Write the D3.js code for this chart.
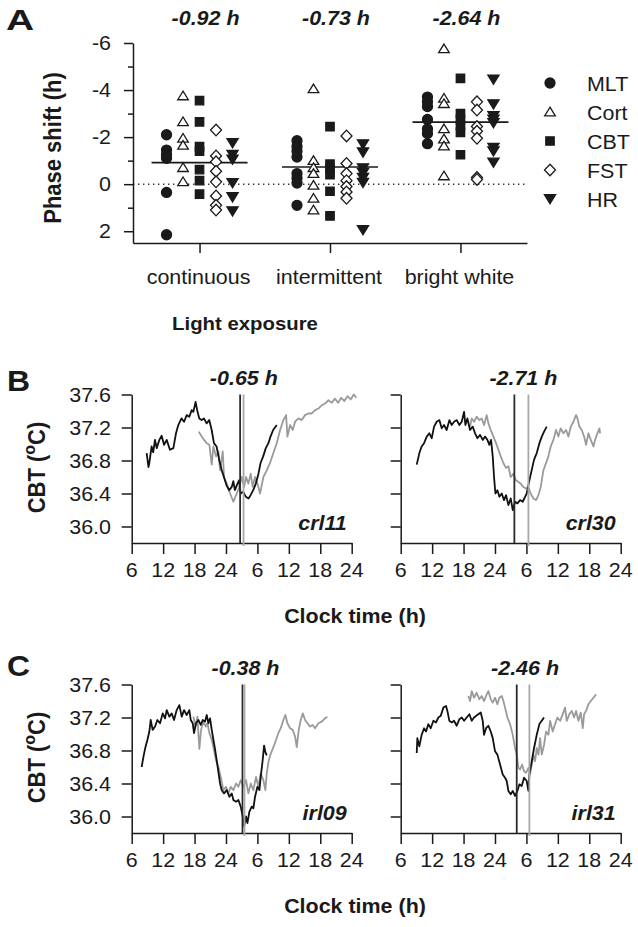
<!DOCTYPE html>
<html><head><meta charset="utf-8">
<script src="https://cdn.jsdelivr.net/npm/d3@7"></script>
<style>body{margin:0;background:#fff} svg{display:block} text{font-family:"Liberation Sans",Arial,Helvetica,sans-serif;fill:#1a1a1a}</style>
</head><body><svg id="c" width="638" height="927"></svg>
<script>
// ---------------- Panel A data ----------------
const groups = ["continuous", "intermittent", "bright white"];
const series = ["MLT", "Cort", "CBT", "FST", "HR"];
const meanShift = [-0.92, -0.73, -2.64];
const phaseTicks = [-6, -4, -2, 0, 2];
const phaseMinorTicks = [-5, -3, -1, 1];
// phase shift (h) per subject, one array per light-exposure group
const MLT = [
  [-2.1, -1.45, -1.25, -1.1, 0.35, 2.15],
  [-1.85, -1.6, -1.4, -1.15, -0.45, -0.25, -0.05, 0.9],
  [-3.7, -3.5, -3.3, -2.75, -2.35, -2.15, -1.72]
];
const Cort = [
  [-3.75, -2.65, -1.95, -1.65, -0.7, -0.1],
  [-4.05, -1.0, -0.7, -0.45, 0.05, 0.6, 1.1],
  [-5.75, -3.65, -3.42, -2.35, -1.92, -1.62, -0.35]
];
const CBT = [
  [-3.55, -2.65, -1.6, -1.4, -0.62, -0.15, 0.42],
  [-2.45, -0.85, -0.65, -0.4, 0.3, 1.35],
  [-4.5, -3.0, -2.75, -2.5, -2.2, -1.25]
];
const FST = [
  [-2.3, -1.2, -0.95, -0.55, -0.1, 0.5, 0.9, 1.1],
  [-2.05, -0.88, -0.45, -0.15, 0.1, 0.33, 0.6],
  [-3.5, -3.15, -2.45, -2.25, -1.95, -0.28, -0.2]
];
const HR = [
  [-1.75, -1.25, -1.05, -0.05, 0.55, 1.15],
  [-1.7, -1.35, -0.68, -0.48, -0.27, -0.06, 1.95],
  [-4.45, -3.4, -2.9, -2.75, -2.6, -1.55, -1.4, -0.92]
];

// ---------------- Panels B / C data ----------------
const clockTicks = [6, 12, 18, 24, 30, 36, 42, 48];
const cbtTicks = [36.0, 36.4, 36.8, 37.2, 37.6];
// [elapsed clock hour, CBT degC]
const bLeftBlack = [[8.86,36.89],[9.2,36.72],[9.37,36.77],[9.8,36.97],[10.1,36.9],[10.45,37.05],[10.77,36.95],[11.28,37.05],[11.72,37.1],[12.17,36.99],[12.68,37.05],[13.3,36.93],[13.95,36.95],[14.46,37.13],[14.9,37.23],[15.5,37.31],[16.0,37.27],[16.5,37.35],[17.0,37.33],[17.45,37.41],[17.77,37.39],[18.2,37.51],[18.5,37.41],[18.9,37.31],[19.36,37.29],[19.8,37.31],[20.3,37.25],[20.8,37.29],[21.27,37.17],[21.7,37.01],[22.2,36.97],[22.7,36.81],[23.2,36.68],[23.6,36.6],[24.1,36.5],[24.6,36.44],[25.1,36.48],[25.4,36.55],[25.7,36.44],[26.2,36.52],[26.5,36.56],[26.8,36.4],[27.3,36.42],[27.8,36.36],[28.3,36.34],[28.7,36.38],[29.2,36.44],[29.7,36.52],[30.2,36.64],[30.6,36.77],[31.1,36.85],[31.6,36.95],[32.1,37.01],[32.5,37.09],[33.0,37.17],[33.7,37.23]];
const bLeftGray = [[18.8,37.15],[19.37,37.09],[19.81,37.05],[20.32,37.01],[20.83,36.99],[21.28,36.75],[21.6,36.97],[22.1,36.85],[22.55,36.91],[22.87,36.68],[23.38,36.91],[23.63,36.6],[24.14,36.52],[24.78,36.4],[25.41,36.3],[26.05,36.4],[26.56,36.48],[27.0,36.6],[27.45,36.48],[27.83,36.6],[28.28,36.52],[28.72,36.64],[29.1,36.48],[29.55,36.6],[30.0,36.52],[30.5,36.4],[31.14,36.6],[31.78,36.68],[32.4,36.77],[33.05,36.89],[33.69,37.01],[34.33,37.17],[34.96,37.29],[35.47,37.35],[35.73,37.09],[36.24,37.23],[36.74,37.17],[37.19,37.27],[37.83,37.31],[38.46,37.29],[39.1,37.35],[39.74,37.37],[40.37,37.37],[41.0,37.41],[41.65,37.43],[42.28,37.47],[42.9,37.49],[43.56,37.53],[44.2,37.5],[44.8,37.55],[45.4,37.5],[46.0,37.56],[46.6,37.52],[47.2,37.58],[47.8,37.54],[48.4,37.6],[48.9,37.56]];
const bRightBlack = [[9.06,36.75],[9.56,36.89],[10.0,36.97],[10.46,37.01],[10.97,37.09],[11.47,37.13],[11.92,37.07],[12.37,37.21],[12.87,37.27],[13.38,37.29],[13.83,37.19],[14.27,37.23],[14.78,37.17],[15.3,37.29],[15.74,37.23],[16.19,37.27],[16.7,37.29],[17.2,37.23],[17.65,37.27],[18.1,37.39],[18.35,37.23],[18.73,37.31],[19.24,37.17],[19.75,37.21],[20.2,37.13],[20.64,37.07],[21.15,37.11],[21.66,37.05],[22.1,37.09],[22.55,37.05],[22.93,36.99],[23.25,37.05],[23.57,36.85],[23.82,36.6],[24.08,36.4],[24.46,36.44],[24.84,36.36],[25.29,36.4],[25.73,36.32],[26.11,36.38],[26.56,36.26],[27.0,36.34],[27.39,36.2],[27.83,36.3],[28.28,36.28],[28.79,36.32],[29.3,36.3],[29.74,36.36],[30.06,36.4],[30.57,36.56],[31.0,36.68],[31.46,36.81],[31.97,36.89],[32.48,37.01],[32.93,37.09],[33.37,37.15],[33.88,37.21]];
const bRightGray = [[19.24,37.21],[19.56,37.31],[20.0,37.27],[20.51,37.33],[21.02,37.29],[21.47,37.31],[21.91,37.23],[22.42,37.35],[22.74,37.25],[23.19,37.17],[23.7,37.09],[24.2,37.01],[24.65,36.93],[25.1,36.85],[25.6,36.77],[26.1,36.71],[26.56,36.73],[27.0,36.6],[27.5,36.64],[28.0,36.56],[28.47,36.54],[28.9,36.52],[29.4,36.48],[29.93,36.46],[30.38,36.48],[30.8,36.4],[31.33,36.34],[31.84,36.32],[32.29,36.38],[32.73,36.48],[33.24,36.68],[33.75,36.77],[34.2,36.85],[34.64,36.97],[35.15,37.05],[35.66,37.17],[36.1,37.09],[36.55,37.19],[37.06,37.13],[37.57,37.17],[38.02,37.09],[38.46,37.21],[38.97,37.27],[39.48,37.35],[39.74,37.31],[40.12,37.21],[40.57,37.17],[41.01,37.09],[41.39,36.99],[41.84,37.13],[42.29,37.05],[42.8,36.97],[43.11,37.05],[43.43,37.11],[43.94,37.19],[44.07,37.13]];
const cLeftBlack = [[7.9,36.6],[8.23,36.72],[8.55,36.82],[9.0,36.93],[9.37,37.03],[9.63,37.17],[10.0,37.05],[10.46,37.09],[10.9,37.17],[11.41,37.13],[11.92,37.25],[12.37,37.19],[12.68,37.29],[13.19,37.21],[13.64,37.25],[14.08,37.17],[14.59,37.29],[15.1,37.35],[15.55,37.21],[16.0,37.29],[16.5,37.23],[17.0,37.29],[17.27,37.17],[17.65,37.13],[17.9,37.01],[18.28,37.13],[18.73,37.17],[19.18,37.11],[19.56,37.17],[20.0,37.15],[20.32,37.23],[20.64,37.13],[20.96,37.19],[21.28,37.05],[21.6,36.93],[21.9,36.82],[22.23,36.68],[22.55,36.54],[22.87,36.4],[23.18,36.32],[23.63,36.28],[24.14,36.32],[24.65,36.24],[25.1,36.28],[25.41,36.2],[25.92,36.18],[26.37,36.2],[26.81,36.12],[27.2,36.0],[27.45,35.88],[27.83,36.0],[28.09,35.92],[28.47,36.06],[28.92,36.12],[29.23,36.1],[29.55,36.24],[30.0,36.36],[30.38,36.32],[30.63,36.48],[31.0,36.68],[31.27,36.86],[31.52,36.78],[31.78,36.74]];
const cLeftGray = [[17.78,37.21],[18.16,37.09],[18.54,37.21],[18.92,36.82],[19.24,37.05],[19.69,37.15],[20.13,37.09],[20.45,37.13],[20.83,37.01],[21.28,36.93],[21.6,36.84],[22.1,36.68],[22.55,36.6],[23.0,36.48],[23.5,36.32],[24.0,36.36],[24.46,36.28],[24.9,36.36],[25.41,36.32],[25.92,36.4],[26.37,36.36],[26.81,36.44],[27.32,36.36],[27.83,36.44],[28.28,36.28],[28.73,36.4],[29.23,36.32],[29.74,36.48],[30.19,36.36],[30.63,36.52],[31.14,36.44],[31.52,36.32],[31.78,36.52],[32.16,36.68],[32.54,36.76],[33.05,36.84],[33.56,36.93],[34.0,37.01],[34.45,37.07],[34.96,37.17],[35.34,37.23],[35.73,37.13],[36.24,37.07],[36.74,37.05],[37.19,36.97],[37.51,36.84],[37.89,37.05],[38.27,37.17],[38.66,37.25],[39.1,37.17],[39.55,37.13],[40.05,37.09],[40.56,37.11],[41.0,37.07],[41.65,37.13],[42.28,37.15],[42.9,37.19],[43.36,37.21]];
const cRightBlack = [[9.06,36.77],[9.18,36.95],[9.56,36.85],[10.0,36.99],[10.46,37.07],[10.84,37.03],[11.28,37.12],[11.73,37.07],[12.24,37.16],[12.75,37.14],[13.19,37.2],[13.64,37.22],[14.15,37.32],[14.66,37.34],[14.98,37.26],[15.29,37.16],[15.74,37.14],[16.18,37.16],[16.69,37.1],[17.2,37.18],[17.65,37.2],[18.1,37.16],[18.6,37.2],[19.11,37.24],[19.56,37.16],[20.0,37.2],[20.39,37.22],[20.83,37.24],[21.28,37.26],[21.66,37.16],[21.91,36.99],[22.3,37.07],[22.74,37.1],[23.19,37.03],[23.57,36.95],[24.01,36.79],[24.46,36.75],[24.97,36.63],[25.48,36.51],[25.92,36.47],[26.24,36.43],[26.56,36.31],[27.0,36.27],[27.39,36.31],[27.83,36.25],[28.28,36.31],[28.66,36.39],[29.1,36.37],[29.55,36.47],[30.06,36.43],[30.38,36.31],[30.57,36.51],[31.02,36.67],[31.46,36.83],[31.97,36.99],[32.48,37.12],[32.93,37.16],[33.37,37.2]];
const cRightGray = [[18.92,37.46],[19.24,37.4],[19.56,37.52],[20.0,37.44],[20.51,37.5],[21.02,37.42],[21.47,37.46],[21.91,37.4],[22.42,37.48],[22.74,37.52],[23.19,37.42],[23.57,37.38],[24.01,37.44],[24.46,37.36],[24.84,37.44],[25.29,37.46],[25.61,37.4],[25.92,37.32],[26.37,37.2],[26.88,37.12],[27.39,36.99],[27.83,36.83],[28.15,36.75],[28.47,36.59],[28.79,36.57],[29.17,36.63],[29.55,36.55],[29.93,36.53],[30.38,36.59],[30.7,36.51],[31.02,36.63],[31.33,36.75],[31.65,36.67],[31.97,36.83],[32.29,36.75],[32.6,36.95],[32.93,36.75],[33.37,36.87],[33.75,37.03],[34.2,36.99],[34.52,37.16],[35.02,37.03],[35.47,37.12],[35.92,37.2],[36.43,37.16],[36.94,37.24],[37.38,37.32],[37.7,37.16],[38.21,37.24],[38.66,37.28],[39.1,37.2],[39.48,37.28],[39.93,37.16],[40.37,37.26],[40.76,37.07],[41.01,37.24],[41.39,37.28],[41.84,37.36],[42.29,37.4],[42.8,37.44],[43.3,37.48]];
// phase markers (clock hour) : [black, gray]
const phaseLines = { crl11: [26.7, 27.35], crl30: [27.7, 30.38], irl09: [27.15, 27.53], irl31: [28.15, 30.57] };
const shiftLabels = { crl11: "-0.65 h", crl30: "-2.71 h", irl09: "-0.38 h", irl31: "-2.46 h" };

// ---------------- drawing ----------------
const svg = d3.select("#c");
const SX = 1.1;
const FS = 19.5;
const INK = "#1a1a1a";
function label(x, y, str, o = {}) {
  const t = svg.append("text")
    .attr("transform", `translate(${x},${y}) scale(${o.sx ?? SX},1)` + (o.rot ? ` rotate(${o.rot})` : ""))
    .attr("text-anchor", o.anchor || "start")
    .attr("font-size", o.size || FS)
    .attr("font-weight", o.weight || "normal")
    .attr("font-style", o.style || "normal")
    .text(str);
  return t;
}
// vertical (rotated) title centred on (cx, cy), measured explicitly
function vtitle(cx, cy, parts, size) {
  const t = svg.append("text").attr("font-size", size).attr("font-weight", "bold").attr("text-anchor", "start");
  parts.forEach(p => {
    const s = t.append("tspan").text(p.t);
    if (p.dy) s.attr("dy", p.dy);
    if (p.size) s.attr("font-size", p.size);
  });
  const len = t.node().getComputedTextLength();
  t.attr("transform", `translate(${cx},${cy + len / 2}) scale(1.05,1) rotate(-90)`);
  return t;
}

// ---- Panel A ----
const yA = d3.scaleLinear().domain([-6, 2.5]).range([43, 243]);
const xA = d3.scalePoint().domain(groups).range([133, 527]).padding(0.51);
const offA = d3.scalePoint().domain(series).range([-33, 33]);

const gA = svg.append("g");
gA.append("line").attr("x1", 133).attr("x2", 527).attr("y1", yA(0)).attr("y2", yA(0))
  .attr("stroke", "#333").attr("stroke-width", 1.4).attr("stroke-dasharray", "1.4,3.6");

gA.append("g").attr("transform", "translate(133,0)")
  .call(d3.axisLeft(yA).tickValues(phaseTicks).tickSize(9).tickSizeOuter(0).tickFormat(""));
gA.append("g").attr("transform", "translate(133,0)")
  .call(d3.axisLeft(yA).tickValues(phaseMinorTicks).tickSize(5).tickSizeOuter(0).tickFormat(""))
  .select(".domain").remove();
gA.append("g").attr("transform", "translate(0,243)")
  .call(d3.axisBottom(xA).tickSize(10).tickSizeOuter(0).tickFormat(""));
gA.selectAll(".domain, .tick line").attr("stroke", INK).attr("stroke-width", 1.5);

phaseTicks.forEach(v => label(111, yA(v) + 7, String(v), { anchor: "end" }));
groups.forEach((g, i) => {
  label(xA(g) - 1, 284, g, { anchor: "middle" });
  label(xA(g) + 6, 25, meanShift[i].toFixed(2) + " h", { anchor: "middle", weight: "bold", style: "italic" });
  gA.append("line").attr("x1", xA(g) - 48).attr("x2", xA(g) + 48)
    .attr("y1", yA(meanShift[i])).attr("y2", yA(meanShift[i]))
    .attr("stroke", INK).attr("stroke-width", 1.7);
});
label(245, 330, "Light exposure", { anchor: "middle", weight: "bold", size: 18.5 });
vtitle(61, 148, [{ t: "Phase shift (h)" }], 22);
label(6, 30, "A", { weight: "bold", size: 30, sx: 1.3 });

const markers = {
  MLT: { d: "M0,-5A5,5 0 1 1 0,5A5,5 0 1 1 0,-5Z", fill: INK },
  Cort: { d: "M0,-4.8L5.3,3.8L-5.3,3.8Z", fill: "#fff" },
  CBT: { d: "M-4.2,-4.2H4.2V4.2H-4.2Z", fill: INK },
  FST: { d: "M0,-5.8L5.5,0L0,5.8L-5.5,0Z", fill: "#fff" },
  HR: { d: "M-5.6,-4.4H5.6L0,4.8Z", fill: INK }
};
const seriesData = { MLT, Cort, CBT, FST, HR };
series.forEach(s => {
  seriesData[s].forEach((vals, gi) => {
    gA.selectAll(null).data(vals).enter().append("path")
      .attr("d", markers[s].d)
      .attr("transform", v => `translate(${xA(groups[gi]) + offA(s)},${yA(v)})`)
      .attr("fill", markers[s].fill).attr("stroke", INK).attr("stroke-width", 1.3);
  });
});
// legend
series.forEach((s, i) => {
  const y = 83 + i * 29;
  gA.append("path").attr("d", markers[s].d).attr("transform", `translate(550,${y})`)
    .attr("fill", markers[s].fill).attr("stroke", INK).attr("stroke-width", 1.3);
  label(587, y + 7.5, s, {});
});

// ---- Panels B & C ----
const panels = [
  { id: "crl11", left: 131.7, top: 394.5, black: bLeftBlack, gray: bLeftGray, yLabels: true },
  { id: "crl30", left: 400.7, top: 394.5, black: bRightBlack, gray: bRightGray, yLabels: false },
  { id: "irl09", left: 131.7, top: 684.5, black: cLeftBlack, gray: cLeftGray, yLabels: true },
  { id: "irl31", left: 400.7, top: 684.5, black: cRightBlack, gray: cRightGray, yLabels: false }
];
panels.forEach(p => {
  const x = d3.scaleLinear().domain([6, 48]).range([p.left, p.left + 220]);
  const y = d3.scaleLinear().domain([35.8, 37.6]).range([p.top + 148.5, p.top]);
  const bottom = p.top + 148.5;
  const g = svg.append("g");
  g.append("g").attr("transform", `translate(${p.left},0)`)
    .call(d3.axisLeft(y).tickValues(cbtTicks).tickSize(10).tickSizeOuter(0).tickFormat(""));
  g.append("g").attr("transform", `translate(0,${bottom})`)
    .call(d3.axisBottom(x).tickValues(clockTicks).tickSize(11).tickSizeOuter(0).tickFormat(""));
  g.selectAll(".domain, .tick line").attr("stroke", INK).attr("stroke-width", 1.5);
  if (p.yLabels) cbtTicks.forEach(v => label(111, y(v) + 7, v.toFixed(1), { anchor: "end" }));
  clockTicks.forEach(v => label(x(v), bottom + 34, String(v <= 24 ? v : v - 24), { anchor: "middle" }));
  const ln = d3.line().x(d => x(d[0])).y(d => y(d[1]));
  g.append("path").attr("d", ln(p.gray)).attr("fill", "none").attr("stroke", "#9a9a9a")
    .attr("stroke-width", 1.8).attr("stroke-linejoin", "round");
  g.append("path").attr("d", ln(p.black)).attr("fill", "none").attr("stroke", "#111")
    .attr("stroke-width", 1.8).attr("stroke-linejoin", "round");
  const [pb, pg] = phaseLines[p.id];
  g.append("line").attr("x1", x(pb)).attr("x2", x(pb)).attr("y1", p.top).attr("y2", bottom)
    .attr("stroke", "#2a2a2a").attr("stroke-width", 1.8);
  g.append("line").attr("x1", x(pg)).attr("x2", x(pg)).attr("y1", p.top).attr("y2", bottom + 3)
    .attr("stroke", "#a8a8a8").attr("stroke-width", 1.8);
  label((x(pb) + x(pg)) / 2 + 2, p.top - 10, shiftLabels[p.id], { anchor: "middle", weight: "bold", style: "italic" });
  label(p.left + 215, p.top + 135, p.id, { anchor: "end", weight: "bold", style: "italic" });
  if (p.yLabels) {
    vtitle(45, p.top + 73, [{ t: "CBT (" }, { t: "o", dy: -10, size: 16 }, { t: "C)", dy: 10 }], 22);
    label(355, bottom + 80, "Clock time (h)", { anchor: "middle", weight: "bold" });
  }
});
label(7, 391, "B", { weight: "bold", size: 29, sx: 1.1 });
label(7, 676, "C", { weight: "bold", size: 29, sx: 1.1 });
</script>
</body></html>
